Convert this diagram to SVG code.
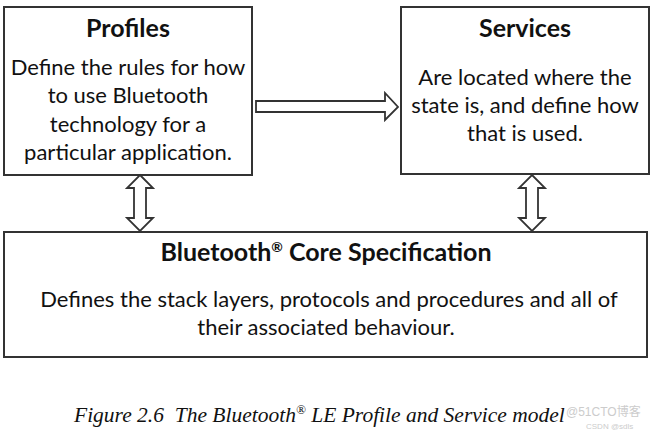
<svg xmlns="http://www.w3.org/2000/svg" width="654" height="435" viewBox="0 0 654 435">
<style>
.box{fill:#fff;stroke:#333;stroke-width:2}
.arr{fill:#fff;stroke:#333;stroke-width:1.8;stroke-linejoin:miter}
.t{font-family:Lato,"Noto Sans",sans-serif;font-weight:bold;font-size:25px;fill:#111;text-anchor:middle}
.b{font-family:Lato,"Noto Sans",sans-serif;font-size:22px;fill:#111;text-anchor:middle}
.cap{font-family:"Liberation Serif",serif;font-style:italic;font-size:21.5px;fill:#111;white-space:pre}
.wm{font-family:"Liberation Sans","Noto Sans CJK SC",sans-serif;fill:#ccc}
</style>
<rect width="654" height="435" fill="#fff"/>
<g id="profiles">
<rect class="box" x="4" y="7" width="248" height="168"/>
<text class="t" x="128" y="37">Profiles</text>
<text class="b" x="128" y="75">Define the rules for how</text>
<text class="b" x="128" y="103">to use Bluetooth</text>
<text class="b" x="128" y="132">technology for a</text>
<text class="b" x="128" y="160">particular application.</text>
</g>
<g id="services">
<rect class="box" x="401" y="7" width="248" height="167"/>
<text class="t" x="525" y="37">Services</text>
<text class="b" x="525" y="85">Are located where the</text>
<text class="b" x="525" y="113">state is, and define how</text>
<text class="b" x="525" y="141">that is used.</text>
</g>
<g id="core">
<rect class="box" x="4" y="232" width="643" height="125"/>
<text class="t" x="326" y="261">Bluetooth<tspan font-size="14" dy="-9">®</tspan><tspan dy="9"> Core Specification</tspan></text>
<text class="b" x="329" y="307">Defines the stack layers, protocols and procedures and all of</text>
<text class="b" x="326" y="335">their associated behaviour.</text>
</g>
<g id="connectors">
<polygon class="arr" points="256,101 385,101 385,93 398,107 385,120 385,112 256,112"/>
<polygon class="arr" points="140,175 153,188 146,188 146,218 153,218 140,231 127,218 134,218 134,188 127,188"/>
<polygon class="arr" points="532,175 545,188 538,188 538,218 545,218 532,231 519,218 526,218 526,188 519,188"/>
</g>
<text class="cap" x="74" y="422" xml:space="preserve">Figure 2.6  The Bluetooth<tspan font-size="13" dy="-8">®</tspan><tspan dy="8"> LE Profile and Service model</tspan></text>
<text class="wm" x="566" y="416" font-size="12">@51CTO博客</text>
<text class="wm" x="586" y="429" font-size="8" fill="#bbb">CSDN @sdls</text>
</svg>
